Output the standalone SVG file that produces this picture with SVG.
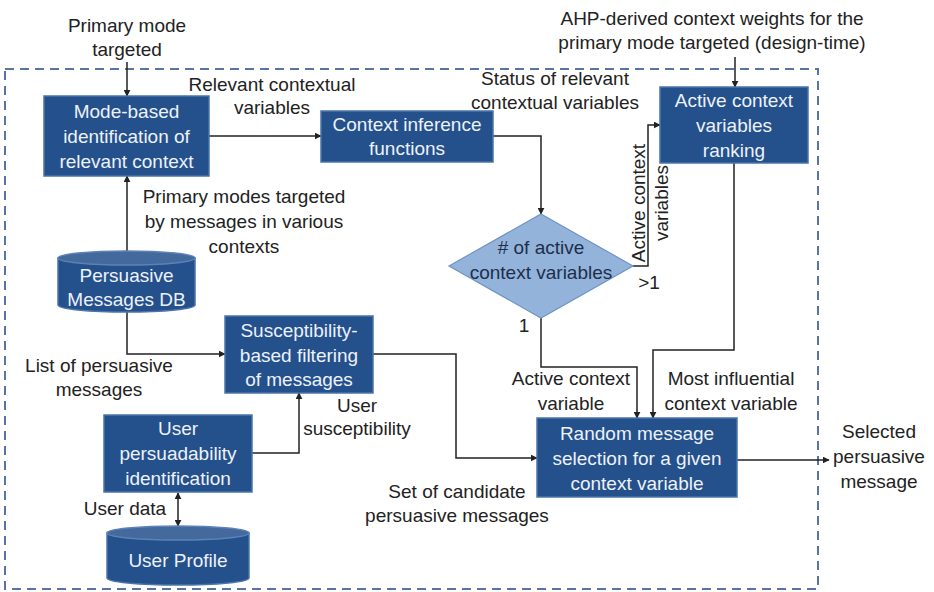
<svg xmlns="http://www.w3.org/2000/svg" width="934" height="592" viewBox="0 0 934 592">
  <defs>
    <marker id="arrow" viewBox="0 0 10 10" refX="9" refY="5" markerWidth="7" markerHeight="7" markerUnits="userSpaceOnUse" orient="auto-start-reverse">
      <path d="M0,0 L10,5 L0,10 z" fill="#222"/>
    </marker>
    <style>
      text { font-family: "Liberation Sans", Arial, sans-serif; font-size: 19px; text-anchor: middle; }
      .lbl { fill: #222; }
      .box { fill: #24508c; stroke: #4a74aa; stroke-width: 1.5; }
      .inbox { fill: #edf2f9; }
      .cyl-body { fill: #24508c; stroke: #4a74aa; stroke-width: 1.5; }
      .cyl-top { fill: #44699c; stroke: #5d82b5; stroke-width: 1.5; }
      .diamond { fill: #94b3da; stroke: #6f93c4; stroke-width: 1.2; }
      .dtext { fill: #1b2f4d; }
      .conn { fill: none; stroke: #222; stroke-width: 1.5; }
      .frame { fill: none; stroke: #5874a5; stroke-width: 2; stroke-dasharray: 9 6; }
    </style>
  </defs>

  <rect width="934" height="592" fill="#ffffff"/>

  <!-- system boundary -->
  <rect class="frame" x="5" y="69" width="813" height="520"/>

  <!-- connectors -->
  <g id="connectors">
    <path class="conn" d="M127,62 V96" marker-end="url(#arrow)"/>
    <path class="conn" d="M735,57 V87" marker-end="url(#arrow)"/>
    <path class="conn" d="M209,136 H321" marker-end="url(#arrow)"/>
    <path class="conn" d="M493,136 H541 V214" marker-end="url(#arrow)"/>
    <path class="conn" d="M633,266 H648 V125 H660" marker-end="url(#arrow)"/>
    <path class="conn" d="M541,318 V367 H637 V418" marker-end="url(#arrow)"/>
    <path class="conn" d="M734,163 V350 H653 V418" marker-end="url(#arrow)"/>
    <path class="conn" d="M127,252 V176" marker-end="url(#arrow)"/>
    <path class="conn" d="M127,312 V354 H225" marker-end="url(#arrow)"/>
    <path class="conn" d="M373,354 H456 V458 H537" marker-end="url(#arrow)"/>
    <path class="conn" d="M252,453 H299 V393" marker-end="url(#arrow)"/>
    <path class="conn" d="M178,493 V526" marker-start="url(#arrow)" marker-end="url(#arrow)"/>
    <path class="conn" d="M737,460 H829" marker-end="url(#arrow)"/>
  </g>

  <!-- connector labels -->
  <g id="labels">
    <text class="lbl" x="127" y="32">Primary mode</text>
    <text class="lbl" x="127" y="56">targeted</text>
    <text class="lbl" x="712" y="25">AHP-derived context weights for the</text>
    <text class="lbl" x="712" y="49">primary mode targeted (design-time)</text>
    <text class="lbl" x="272" y="91">Relevant contextual</text>
    <text class="lbl" x="272" y="114">variables</text>
    <text class="lbl" x="555" y="85">Status of relevant</text>
    <text class="lbl" x="555" y="109">contextual variables</text>
    <text class="lbl" x="244" y="203">Primary modes targeted</text>
    <text class="lbl" x="244" y="228">by messages in various</text>
    <text class="lbl" x="244" y="253">contexts</text>
    <text class="lbl" transform="translate(645,203) rotate(-90)">Active context</text>
    <text class="lbl" transform="translate(668,203) rotate(-90)">variables</text>
    <text class="lbl" x="649" y="289">&gt;1</text>
    <text class="lbl" x="524" y="332">1</text>
    <text class="lbl" x="99" y="372">List of persuasive</text>
    <text class="lbl" x="99" y="396">messages</text>
    <text class="lbl" x="571" y="385">Active context</text>
    <text class="lbl" x="571" y="410">variable</text>
    <text class="lbl" x="731" y="385">Most influential</text>
    <text class="lbl" x="731" y="410">context variable</text>
    <text class="lbl" x="357" y="412">User</text>
    <text class="lbl" x="357" y="435">susceptibility</text>
    <text class="lbl" x="879" y="438">Selected</text>
    <text class="lbl" x="879" y="463">persuasive</text>
    <text class="lbl" x="879" y="488">message</text>
    <text class="lbl" x="457" y="498">Set of candidate</text>
    <text class="lbl" x="457" y="522">persuasive messages</text>
    <text class="lbl" x="125" y="515">User data</text>
  </g>

  <g id="mode-based">
    <rect class="box" x="44" y="96" width="165" height="80"/>
    <text class="inbox" x="126.5" y="118">Mode-based</text>
    <text class="inbox" x="126.5" y="143">identification of</text>
    <text class="inbox" x="126.5" y="168">relevant context</text>
  </g>

  <g id="context-inference">
    <rect class="box" x="321" y="111" width="172" height="51"/>
    <text class="inbox" x="407" y="131">Context inference</text>
    <text class="inbox" x="407" y="155">functions</text>
  </g>

  <g id="ranking">
    <rect class="box" x="660" y="87" width="148" height="76"/>
    <text class="inbox" x="734" y="107">Active context</text>
    <text class="inbox" x="734" y="132">variables</text>
    <text class="inbox" x="734" y="157">ranking</text>
  </g>

  <g id="decision">
    <polygon class="diamond" points="541,214 633,266 541,318 449,266"/>
    <text class="dtext" x="541" y="254"># of active</text>
    <text class="dtext" x="541" y="279">context variables</text>
  </g>

  <g id="messages-db">
    <path class="cyl-body" d="M58,258 V305 A68.5,7 0 0 0 195,305 V258 Z"/>
    <ellipse class="cyl-top" cx="126.5" cy="258" rx="68.5" ry="7"/>
    <text class="inbox" x="126.5" y="282">Persuasive</text>
    <text class="inbox" x="126.5" y="306">Messages DB</text>
  </g>

  <g id="filtering">
    <rect class="box" x="225" y="316" width="148" height="77"/>
    <text class="inbox" x="299" y="337">Susceptibility-</text>
    <text class="inbox" x="299" y="362">based filtering</text>
    <text class="inbox" x="299" y="386">of messages</text>
  </g>

  <g id="persuadability">
    <rect class="box" x="104" y="415" width="148" height="77"/>
    <text class="inbox" x="178" y="435">User</text>
    <text class="inbox" x="178" y="460">persuadability</text>
    <text class="inbox" x="178" y="485">identification</text>
  </g>

  <g id="random-selection">
    <rect class="box" x="537" y="418" width="200" height="79"/>
    <text class="inbox" x="637" y="440">Random message</text>
    <text class="inbox" x="637" y="465">selection for a given</text>
    <text class="inbox" x="637" y="490">context variable</text>
  </g>

  <g id="user-profile">
    <path class="cyl-body" d="M107,533 V578 A71,7 0 0 0 249,578 V533 Z"/>
    <ellipse class="cyl-top" cx="178" cy="533" rx="71" ry="7"/>
    <text class="inbox" x="178" y="567">User Profile</text>
  </g>
</svg>
